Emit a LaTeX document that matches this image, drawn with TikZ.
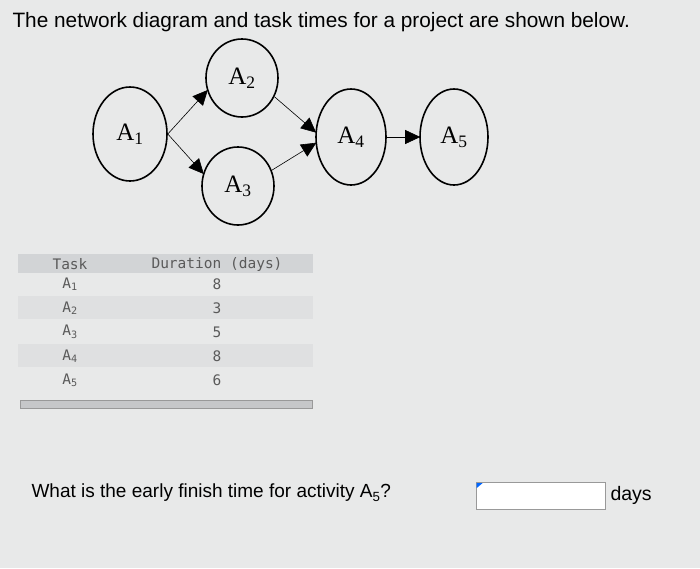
\documentclass[tikz,border=0pt]{standalone}
\usepackage{fontspec}
\setmainfont{Liberation Sans}
\newfontfamily\diagfont{Liberation Serif}
\newfontfamily\tabfont{DejaVu Sans Mono}
\usetikzlibrary{arrows.meta,shapes.geometric}
\definecolor{bg}{HTML}{E8E9E9}
\definecolor{band}{HTML}{D2D4D6}
\definecolor{rowband}{HTML}{DFE0E1}
\definecolor{tabtext}{HTML}{5A5A5A}
\begin{document}
\begin{tikzpicture}[x=1pt,y=-1pt,
  act/.style={draw,line width=1.6pt,ellipse,inner sep=0pt,font=\diagfont\fontsize{25}{25}\selectfont},
  link/.style={line width=0.6pt,-{Triangle[length=15pt,width=14pt]},shorten >=-1pt},
  tab/.style={font=\tabfont\fontsize{14.5}{15}\selectfont,text=tabtext,anchor=center}]
\useasboundingbox (0,0) rectangle (700,568);
\fill[bg] (0,0) rectangle (700,568);
\node[anchor=west,font=\fontsize{20.8}{24}\selectfont] (title) at (9,22) {The network diagram and task times for a project are shown below.};
% nodes
\node[act,minimum width=74pt,minimum height=94pt] (a1) at (130,134) {A\textsubscript{1}};
\node[act,minimum width=72pt,minimum height=78pt] (a2) at (242,78) {A\textsubscript{2}};
\node[act,minimum width=72pt,minimum height=78pt] (a3) at (238,186) {A\textsubscript{3}};
\node[act,minimum width=70pt,minimum height=96pt] (a4) at (351,137) {A\textsubscript{4}};
\node[act,minimum width=68pt,minimum height=96pt] (a5) at (454,137) {A\textsubscript{5}};
\draw[link] (a1.east) -- (a2.200);
\draw[link] (a1.east) -- (a3.160);
\draw[link] (a2.330) -- (a4.172);
\draw[link] (a3.25) -- (a4.190);
\draw[link] (a4.east) -- (a5.west);
% table
\fill[band] (18,254) rectangle (313,273);
\fill[rowband] (18,296) rectangle (313,319);
\fill[rowband] (18,344) rectangle (313,367);
\node[tab] (th1) at (70,264) {Task};
\node[tab] (th2) at (217,264) {Duration (days)};
\foreach \t/\d/\y [count=\i] in {1/8/284,2/3/308,3/5/332,4/8/356,5/6/380}{
  \node[tab] (t\i) at (70,\y) {A\textsubscript{\t}};
  \node[tab] (d\i) at (217,\y) {\d};
}
\fill[gray!80] (20,400) rectangle (313,409);
\fill[band!85!gray] (21,401) rectangle (312,408);
% question
\node[anchor=west,font=\fontsize{19}{22}\selectfont] (q) at (28,493) {What is the early finish time for activity A\textsubscript{5}?};
\node[draw=gray!80,fill=white,line width=0.8pt,minimum width=129pt,minimum height=27pt,inner sep=0pt] (box) at (540.5,496) {};
\fill[blue!60!cyan] (box.north west) ++(1,1) -- ++(6,0) -- ++(-6,5) -- cycle;
\node[anchor=west,font=\fontsize{19.5}{22}\selectfont] (days) at (607,495) {days};
\end{tikzpicture}
\end{document}
